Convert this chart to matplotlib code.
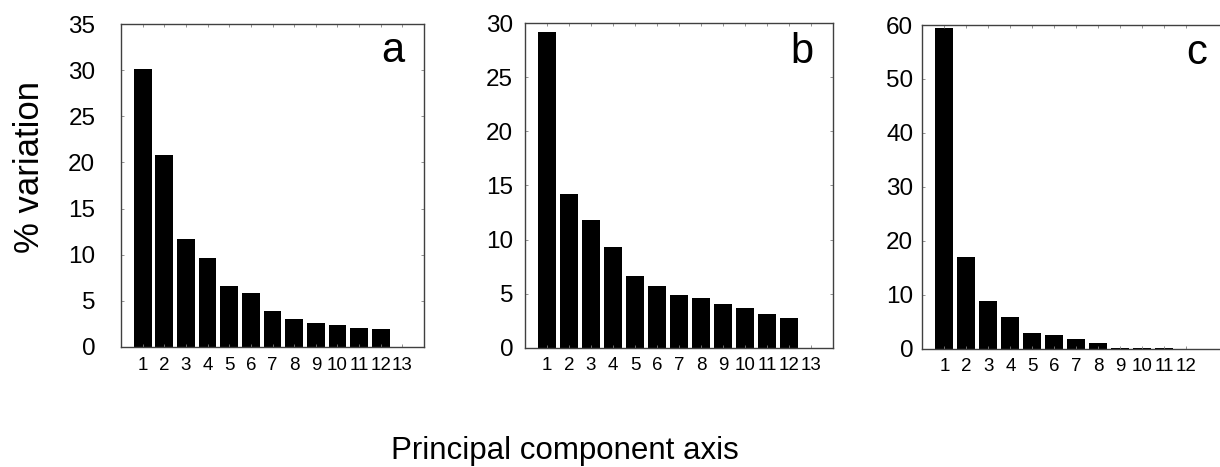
import numpy as np
import matplotlib
matplotlib.use("Agg")
from matplotlib import pyplot as plt

plt.rcParams['font.family'] = ['Liberation Sans', 'DejaVu Sans']

# % variation explained by each principal component axis
pc_a = [1, 2, 3, 4, 5, 6, 7, 8, 9, 10, 11, 12, 13]
var_a = [30.1, 20.8, 11.7, 9.6, 6.6, 5.9, 3.85, 3.05, 2.6, 2.35, 2.1, 1.95, 0.0]

pc_b = [1, 2, 3, 4, 5, 6, 7, 8, 9, 10, 11, 12, 13]
var_b = [29.2, 14.25, 11.8, 9.3, 6.6, 5.75, 4.9, 4.55, 4.05, 3.7, 3.1, 2.75, 0.0]

pc_c = [1, 2, 3, 4, 5, 6, 7, 8, 9, 10, 11, 12]
var_c = [59.4, 17.0, 8.9, 5.8, 3.0, 2.45, 1.8, 1.0, 0.2, 0.1, 0.05, 0.03]

panel_letters = ["a", "b", "c"]
y_max = [35, 30, 60]
y_step = [5, 5, 10]

fig = plt.figure(figsize=(12.2, 4.67), dpi=100)

# axes boxes in figure fraction (left, bottom, width, height)
boxes = [
    [0.0992, 0.2570, 0.2484, 0.6916],
    [0.4303, 0.2555, 0.2527, 0.6946],
    [0.7560, 0.2533, 0.2525, 0.6931],
]
ypads = [18.5, 8.5, 6.5]
letter_x = [13.1, 13.1, 12.95]
letter_y = [0.883, 0.877, 0.88]

data = [(pc_a, var_a), (pc_b, var_b), (pc_c, var_c)]

for i in range(3):
    ax = fig.add_axes(boxes[i])
    x, y = data[i]
    ax.bar(x, y, width=0.82, color="black", edgecolor="none")
    ax.set_xlim(0, 14)
    ax.set_ylim(0, y_max[i])
    ax.set_xticks(x)
    ax.set_xticklabels([str(v) for v in x], fontsize=13.5)
    ax.set_yticks(np.arange(0, y_max[i] + 1, y_step[i]))
    ax.tick_params(axis="y", labelsize=17.5, pad=ypads[i])
    ax.tick_params(axis="x", pad=7)
    ax.tick_params(direction="in", length=2.5, width=0.6, color="#808080",
                   top=True, right=True)
    for s in ax.spines.values():
        s.set_color("#404040")
        s.set_linewidth(1.0)
    ax.text(letter_x[i], letter_y[i], panel_letters[i], fontsize=30,
            ha="right", va="baseline",
            transform=ax.get_xaxis_transform())

fig.text(0.024, 1 - 167 / 467, "% variation", rotation=90, fontsize=25,
         ha="center", va="center")
fig.text(565 / 1220, 1 - 459 / 467, "Principal component axis", fontsize=22.5,
         ha="center", va="baseline")

fig.savefig("out.png", dpi=100)
